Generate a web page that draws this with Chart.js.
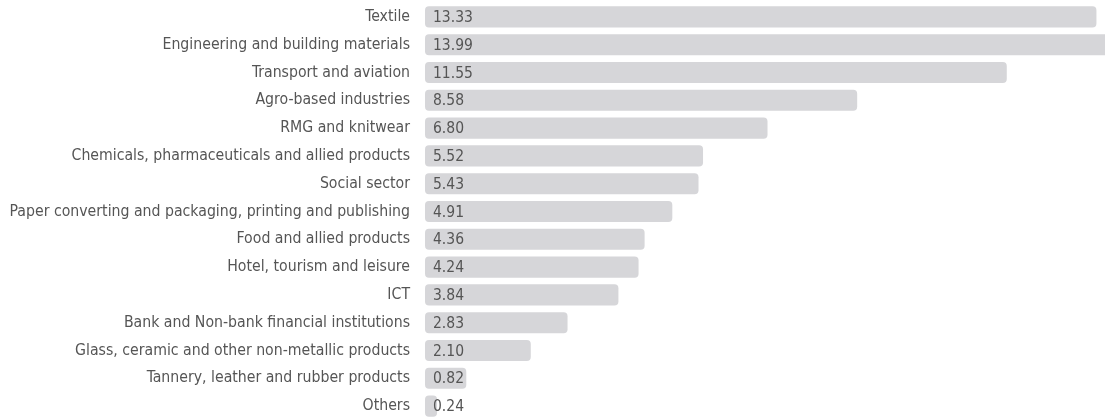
<!DOCTYPE html>
<html><head><meta charset="utf-8">
<script src="https://cdn.jsdelivr.net/npm/chart.js@4/dist/chart.umd.min.js"></script>
<style>html,body{margin:0;padding:0;background:#fff;overflow:hidden;}canvas{display:block;}</style>
</head><body><canvas id="c" width="1105" height="420"></canvas>
<script>
const categories = ["Textile","Engineering and building materials","Transport and aviation","Agro-based industries","RMG and knitwear","Chemicals, pharmaceuticals and allied products","Social sector","Paper converting and packaging, printing and publishing","Food and allied products","Hotel, tourism and leisure","ICT","Bank and Non-bank financial institutions","Glass, ceramic and other non-metallic products","Tannery, leather and rubber products","Others"];
const values = [13.33,13.99,11.55,8.58,6.80,5.52,5.43,4.91,4.36,4.24,3.84,2.83,2.10,0.82,0.24];

const FONT = '"Liberation Sans Narrow", "DejaVu Sans Condensed", Arial, sans-serif';
const valueLabels = {
  id:'valueLabels',
  afterDatasetsDraw(chart){
    const ctx = chart.ctx, meta = chart.getDatasetMeta(0);
    ctx.save();
    ctx.font = '15.5px ' + FONT;
    ctx.fillStyle = '#555';
    ctx.textBaseline = 'middle';
    ctx.textAlign = 'left';
    meta.data.forEach((bar,i)=>{
      ctx.fillText(values[i].toFixed(2), bar.base + 8, bar.y + 1);
    });
    ctx.restore();
  }
};

new Chart(document.getElementById('c'), {
  type:'bar',
  data:{labels:categories, datasets:[{data:values, backgroundColor:'#d6d6d9', borderRadius:4, borderSkipped:false, barPercentage:0.76, categoryPercentage:1}]},
  options:{
    indexAxis:'y', responsive:false, animation:false, devicePixelRatio:1,
    layout:{padding:{top:3,bottom:0,left:0,right:0}},
    plugins:{legend:{display:false}, tooltip:{enabled:false}},
    scales:{
      x:{display:false, min:0, max:13.5},
      y:{
        grid:{display:false, drawTicks:false}, border:{display:false},
        ticks:{color:'#555', padding:15, autoSkip:false, font:{family:FONT, size:15.7}},
        afterFit(s){ s.width = 425; s.paddingTop = 0; s.paddingBottom = 0; }
      }
    }
  },
  plugins:[valueLabels]
});
</script></body></html>
